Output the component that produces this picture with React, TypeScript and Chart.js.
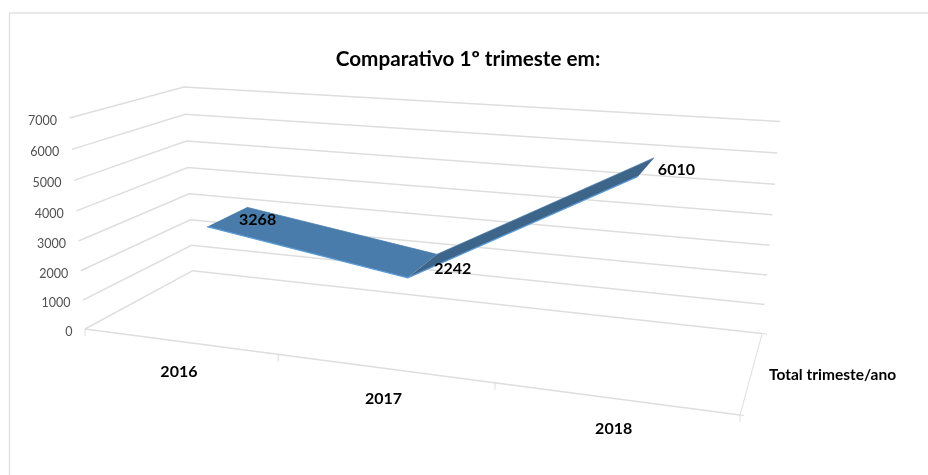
import React, { useEffect, useRef } from "react";
import { Chart, registerables } from "chart.js";

Chart.register(...registerables);

const categories = ["2016", "2017", "2018"];
const totals = [3268, 2242, 6010];
const seriesName = "Total trimeste/ano";
const titleText = "Comparativo 1º trimeste em:";
const FONT = "Lato, Carlito, Calibri, sans-serif";

// Picture of the unit cube: corner images and perspective weights.
const O = [85, 329];
const PU = [740, 415];
const PV = [69.5, 118];
const PW = [192.7, 270.7];
const LU = 0.837;
const LV = 0.953;
const LW = 1.1566;
const RIBBON_FRONT = 0.3;
const RIBBON_BACK = 0.7;

function project(u: number, v: number, w: number): [number, number] {
  const d = 1 + u * (LU - 1) + v * (LV - 1) + w * (LW - 1);
  const c = (i: number) =>
    (O[i] + u * (LU * PU[i] - O[i]) + v * (LV * PV[i] - O[i]) + w * (LW * PW[i] - O[i])) / d;
  return [c(0), c(1)];
}

const normX = (chart: any, px: number) => {
  const a = chart.chartArea;
  return (px - a.left) / (a.right - a.left);
};
const normY = (chart: any, py: number) => {
  const a = chart.chartArea;
  return (a.bottom - py) / (a.bottom - a.top);
};

const GRID = "#dedede";
const SEG_COLORS = ["#4a7cab", "#3d6489"];

function seg(ctx: CanvasRenderingContext2D, pts: [number, number][], color = GRID, width = 1.5) {
  ctx.beginPath();
  pts.forEach((p, i) => (i ? ctx.lineTo(p[0], p[1]) : ctx.moveTo(p[0], p[1])));
  ctx.strokeStyle = color;
  ctx.lineWidth = width;
  ctx.stroke();
}

const perspectivePlugin = {
  id: "perspective",
  afterDatasetsUpdate(chart: any) {
    chart.data.datasets.forEach((ds: any, di: number) => {
      chart.getDatasetMeta(di).data.forEach((pt: any) => {
        const [x, y] = project(normX(chart, pt.x), normY(chart, pt.y), ds.depth);
        pt.x = x;
        pt.y = y;
      });
    });
  },
  beforeDraw(chart: any) {
    const ctx = chart.ctx;
    ctx.save();
    ctx.strokeStyle = "#e2e2e2";
    ctx.lineWidth = 1.5;
    ctx.beginPath();
    ctx.moveTo(9.5, 475);
    ctx.lineTo(9.5, 13);
    ctx.lineTo(928, 13);
    ctx.stroke();
    ctx.restore();
  },
  beforeDatasetsDraw(chart: any) {
    const ctx = chart.ctx;
    const yScale = chart.scales.y;
    const xScale = chart.scales.x;
    ctx.save();
    // walls
    yScale.ticks.forEach((t: any) => {
      const v = normY(chart, yScale.getPixelForValue(t.value));
      seg(ctx, [project(0, v, 0), project(0, v, 1), project(1, v, 1)]);
      const front = project(0, v, 0);
      ctx.font = `12.5px ${FONT}`;
      ctx.fillStyle = "#505050";
      ctx.textAlign = "right";
      ctx.textBaseline = "middle";
      ctx.fillText(String(t.value), front[0] - 12.5, front[1] + 3);
    });
    // floor
    seg(ctx, [project(0, 0, 0), project(1, 0, 0)]);
    seg(ctx, [project(1, 0, 0), project(1, 0, 1)], GRID, 1);
    const n = xScale.getLabels().length;
    for (let i = 0; i <= n; i++) {
      const p = project(i / n, 0, 0);
      seg(ctx, [p, [p[0], p[1] + 7]], GRID, 1);
    }
    const b = project(1, 0, 1);
    seg(ctx, [b, [b[0] + 5, b[1] + 0.6]], GRID, 1);
    const f = project(1, 0, 0);
    seg(ctx, [f, [f[0] + 4, f[1] + 0.5]], GRID, 1);
    // ribbon surface
    const front = chart.getDatasetMeta(0).data;
    const back = chart.getDatasetMeta(1).data;
    for (let i = 0; i < front.length - 1; i++) {
      ctx.beginPath();
      ctx.moveTo(front[i].x, front[i].y);
      ctx.lineTo(front[i + 1].x, front[i + 1].y);
      ctx.lineTo(back[i + 1].x, back[i + 1].y);
      ctx.lineTo(back[i].x, back[i].y);
      ctx.closePath();
      ctx.fillStyle = SEG_COLORS[i];
      ctx.fill();
    }
    ctx.restore();
  },
  afterDatasetsDraw(chart: any) {
    const ctx = chart.ctx;
    const xScale = chart.scales.x;
    const yScale = chart.scales.y;
    ctx.save();
    ctx.fillStyle = "#000";
    ctx.textBaseline = "middle";
    ctx.textAlign = "center";
    ctx.font = `bold 16px ${FONT}`;
    xScale.getLabels().forEach((label: string, i: number) => {
      const u = normX(chart, xScale.getPixelForValue(i));
      const p = project(u, 0, 0);
      ctx.fillText(label, p[0], p[1] + 30.5);
      const val = chart.data.datasets[0].data[i];
      const q = project(u, normY(chart, yScale.getPixelForValue(val)), 0.5);
      ctx.fillText(String(val), q[0] + 30, q[1] + 3);
    });
    ctx.textAlign = "left";
    ctx.font = `bold 15.5px ${FONT}`;
    const s = project(1, 0, 0.5);
    ctx.fillText(seriesName, s[0] + 17, s[1] + 4);
    ctx.restore();
  },
};

export default function App() {
  const ref = useRef<HTMLCanvasElement>(null);
  useEffect(() => {
    const chart = new Chart(ref.current as HTMLCanvasElement, {
      type: "line",
      plugins: [perspectivePlugin],
      data: {
        labels: categories,
        datasets: [
          {
            label: seriesName,
            data: totals,
            depth: RIBBON_FRONT,
            borderColor: "#5b9bd5",
            borderWidth: 1.2,
            pointRadius: 0,
            tension: 0,
            clip: false,
          },
          {
            label: seriesName + " (fundo)",
            data: totals,
            depth: RIBBON_BACK,
            borderColor: "#4f81b0",
            borderWidth: 0.8,
            pointRadius: 0,
            tension: 0,
            clip: false,
          },
        ] as any,
      },
      options: {
        responsive: false,
        animation: false,
        devicePixelRatio: 1,
        layout: { padding: { left: 10, right: 2, top: 0, bottom: 0 } },
        plugins: {
          legend: { display: false },
          tooltip: { enabled: false },
          title: {
            display: true,
            text: titleText,
            color: "#000",
            font: { family: FONT, size: 20.7, weight: "bold" },
            padding: { top: 47, bottom: 8 },
          },
        },
        scales: {
          x: { type: "category", offset: true, display: false },
          y: { type: "linear", min: 0, max: 7000, ticks: { stepSize: 1000 }, display: false },
        },
      },
    } as any);
    return () => chart.destroy();
  }, []);
  return (
    <canvas
      ref={ref}
      width={928}
      height={475}
      style={{ position: "fixed", left: 0, top: 0, display: "block" }}
    />
  );
}
